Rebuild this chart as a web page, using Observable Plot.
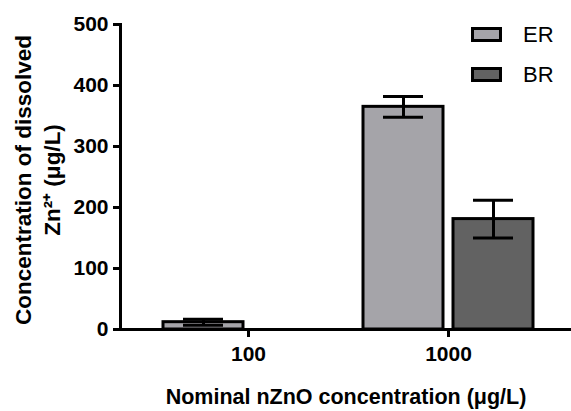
<!DOCTYPE html>
<html><head><meta charset="utf-8">
<script src="https://cdn.jsdelivr.net/npm/d3@7"></script>
<script src="https://cdn.jsdelivr.net/npm/@observablehq/plot@0.6"></script>
<style>
body{margin:0;background:#fff;}
#wrap{position:relative;width:571px;height:411px;font-family:"Liberation Sans",Arial,sans-serif;}
#legend{position:absolute;left:471px;top:27px;}
.row{display:flex;align-items:center;height:15px;margin-bottom:25px;}
.sw{width:25px;height:9px;border:3px solid #000;}
.lab{margin-left:21px;font-size:22px;line-height:15px;color:#000;}
</style></head><body><div id="wrap"></div>
<script>
// ---- data ----
const concentrations = ["100", "1000"];
const series = ["ER", "BR"];
const erMean = [12, 365];
const erSD = [5, 17];
const brMean = [null, 181];
const brSD = [null, 31];
const seriesColors = ["#a5a4a9", "#626262"];
const yTicks = [0, 100, 200, 300, 400, 500];
const xTitle = "Nominal nZnO concentration (μg/L)";
const yTitle = "Concentration of dissolved\nZn²⁺ (μg/L)";

const er = concentrations.map((c, i) => ({conc: c, series: "ER", mean: erMean[i], sd: erSD[i]})).filter(d => d.mean != null);
const br = concentrations.map((c, i) => ({conc: c, series: "BR", mean: brMean[i], sd: brSD[i]})).filter(d => d.mean != null);

const font = '"Liberation Sans", Arial, sans-serif';
const chart = Plot.plot({
  width: 571,
  height: 411,
  marginLeft: 120,
  marginRight: 0,
  marginTop: 24,
  marginBottom: 82,
  style: {fontFamily: font, background: "#fff", color: "#000"},
  x: {domain: concentrations, paddingInner: 0.15, paddingOuter: 0.2025, align: 0.537, axis: null},
  y: {domain: [0, 500], axis: null},
  marks: [
    Plot.barY(er, {x: "conc", y: "mean", fill: seriesColors[0], stroke: "#000", strokeWidth: 3, insetRight: 90}),
    Plot.barY(br, {x: "conc", y: "mean", fill: seriesColors[1], stroke: "#000", strokeWidth: 3, insetLeft: 90}),
    Plot.ruleX(er, {x: "conc", y1: d => d.mean - d.sd, y2: d => d.mean + d.sd, dx: -45, stroke: "#000", strokeWidth: 3}),
    Plot.ruleX(br, {x: "conc", y1: d => d.mean - d.sd, y2: d => d.mean + d.sd, dx: 45, stroke: "#000", strokeWidth: 3}),
    Plot.tickY(er, {x: "conc", y: d => d.mean + d.sd, insetLeft: 20, insetRight: 110, stroke: "#000", strokeWidth: 3}),
    Plot.tickY(er, {x: "conc", y: d => d.mean - d.sd, insetLeft: 20, insetRight: 110, stroke: "#000", strokeWidth: 3}),
    Plot.tickY(br, {x: "conc", y: d => d.mean + d.sd, insetLeft: 110, insetRight: 20, stroke: "#000", strokeWidth: 3}),
    Plot.tickY(br, {x: "conc", y: d => d.mean - d.sd, insetLeft: 110, insetRight: 20, stroke: "#000", strokeWidth: 3}),
    Plot.ruleY([0], {stroke: "#000", strokeWidth: 3}),
    Plot.frame({anchor: "left", stroke: "#000", strokeWidth: 3}),
    Plot.axisY({ticks: yTicks, tickSize: 7, tickPadding: 5, strokeWidth: 3, fontSize: 21, fontWeight: "bold", label: null, tickFormat: d => String(d)}),
    Plot.axisX({tickSize: 8, tickPadding: 9, strokeWidth: 3, fontSize: 21, fontWeight: "bold", label: null}),
    Plot.text([xTitle], {frameAnchor: "bottom", textAnchor: "middle", dy: 68, lineAnchor: "middle", fontSize: 21.5, fontWeight: "bold", fill: "#000"}),
    Plot.text([yTitle], {frameAnchor: "left", textAnchor: "middle", rotate: -90, dx: -84, dy: 3, lineAnchor: "middle", lineHeight: 1.25, fontSize: 22.5, fontWeight: "bold", fill: "#000"})
  ]
});
const wrap = document.getElementById("wrap");
wrap.appendChild(chart);
const legend = document.createElement("div");
legend.id = "legend";
series.forEach((s, i) => {
  const row = document.createElement("div");
  row.className = "row";
  const sw = document.createElement("span");
  sw.className = "sw";
  sw.style.background = seriesColors[i];
  const lab = document.createElement("span");
  lab.className = "lab";
  lab.textContent = s;
  row.appendChild(sw); row.appendChild(lab);
  legend.appendChild(row);
});
wrap.appendChild(legend);
</script></body></html>
